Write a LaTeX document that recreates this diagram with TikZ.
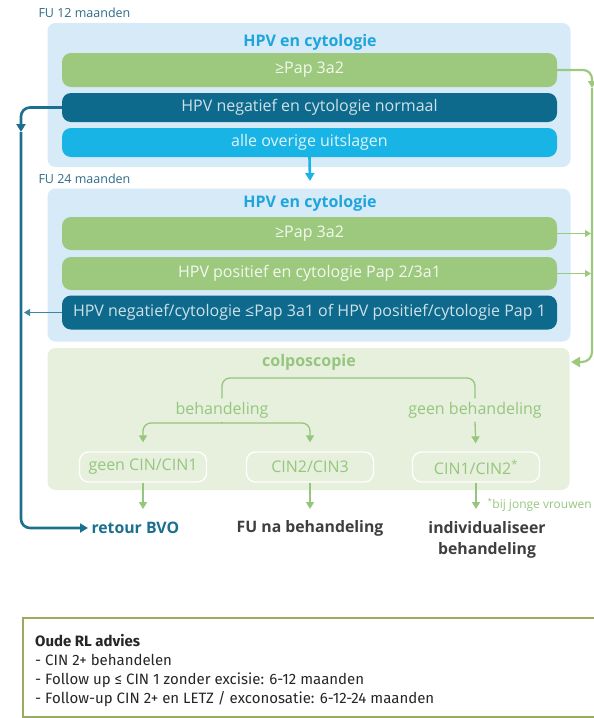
\documentclass[tikz,border=0pt]{standalone}
\usepackage{fontspec}
\setmainfont{Open Sans}
\newfontfamily\notefont{Fira Sans}
\usetikzlibrary{arrows.meta}

\definecolor{panelblue}{HTML}{D7EAF8}
\definecolor{bargreen}{HTML}{9DC97E}
\definecolor{bardark}{HTML}{0E6A8C}
\definecolor{barcyan}{HTML}{19B4E6}
\definecolor{titleblue}{HTML}{1EA5DC}
\definecolor{colpofill}{HTML}{E6F0DD}
\definecolor{colpoline}{HTML}{96C67E}
\definecolor{linedark}{HTML}{1C6F8F}
\definecolor{fublue}{HTML}{2D6B87}
\definecolor{notegreen}{HTML}{9AAB5F}
\definecolor{endgray}{HTML}{3E3E3E}

\tikzset{
	panel/.style={fill=#1, rounded corners=8pt, minimum width=523pt, inner sep=0pt},
	bar/.style={fill=#1, rounded corners=9pt, minimum width=495pt, minimum height=33pt, inner sep=0pt, font=\fontsize{16}{18}\selectfont},
	paneltitle/.style={font=\fontsize{16}{18}\selectfont\bfseries, text=titleblue},
	fulabel/.style={font=\fontsize{12.5}{14}\selectfont, text=fublue, anchor=west},
	cinbox/.style={draw=white, line width=1.3pt, rounded corners=9pt, minimum width=127pt, minimum height=30pt, inner sep=0pt, text=colpoline, font=\fontsize{16}{18}\selectfont},
	colpotext/.style={text=colpoline, font=\fontsize{16}{18}\selectfont},
	endlabel/.style={font=\fontsize{15.8}{21}\selectfont\bfseries, text=endgray, align=center},
	darkline/.style={draw=linedark, line width=2.6pt, rounded corners=9pt},
	thinarrow/.style={line width=1.1pt, -{Triangle[width=7pt,length=6pt]}},
	colpoarrow/.style={draw=colpoline, line width=1.3pt, rounded corners=8pt, -{Triangle[width=8pt,length=7pt]}}
}

\begin{document}
\begin{tikzpicture}[x=1pt,y=-1pt]
	%%%%% START %%%%%
	\useasboundingbox (0,0) rectangle (594,718);
	
	% FU 12 maanden
	\node[fulabel] (fu12) at (35,13) {FU 12 maanden};
	\node[panel=panelblue, minimum height=144pt] (p1) at (309,95) {};
	\node[paneltitle] (t1) at (310,42) {HPV en cytologie};
	\node[bar=bargreen, minimum height=34pt, text=white!88!bargreen] (g1) at (309.5,70) {≥Pap 3a2};
	\node[bar=bardark, minimum height=29pt, text=white!80!bardark] (d1) at (309.5,107.5) {HPV negatief en cytologie normaal};
	\node[bar=barcyan, minimum height=29pt, text=white!85!barcyan] (c1) at (309.5,142.5) {alle overige uitslagen};
	\coordinate (down24) at (310,181);
	\draw[barcyan, line width=2.6pt, -{Triangle[width=9pt,length=8pt]}] (c1.south) -- (down24);
	
	% FU 24 maanden
	\node[fulabel] (fu24) at (35,179) {FU 24 maanden};
	\node[panel=panelblue, minimum height=153pt] (p2) at (309,265) {};
	\node[paneltitle] (t2) at (310,203) {HPV en cytologie};
	\node[bar=bargreen, text=white!88!bargreen] (g2) at (309.5,233.5) {≥Pap 3a2};
	\node[bar=bargreen, text=white!88!bargreen] (g3) at (309.5,273.5) {HPV positief en cytologie Pap 2/3a1};
	\node[bar=bardark, minimum height=34pt, text=white!80!bardark] (d2) at (309.5,312.5) {HPV negatief/cytologie ≤Pap 3a1 of HPV positief/cytologie Pap 1};
	
	% colposcopie
	\node[panel=colpofill, minimum width=522pt, minimum height=142pt] (p3) at (308.5,419) {};
	\node[colpotext, font=\fontsize{16}{18}\selectfont\bfseries] (colpo) at (309,362) {colposcopie};
	\node[colpotext] (beh) at (222,410) {behandeling};
	\node[colpotext] (gbeh) at (475,410) {geen behandeling};
	\node[cinbox] (cin1) at (143,467) {geen CIN/CIN1};
	\node[cinbox] (cin2) at (310,467) {CIN2/CIN3};
	\node[cinbox] (cin3) at (476,467) {CIN1/CIN2\textsuperscript{*}};
	\coordinate (top) at (300,378);
	\coordinate (split) at (222,423);
	\draw[draw=colpoline, line width=1.3pt, rounded corners=8pt] (beh.north) |- (top) -| (gbeh.north);
	\draw[colpoline, line width=1.3pt] (beh.south) -- (split);
	\draw[colpoarrow, shorten >=9pt] (split) -| (cin1.north);
	\draw[colpoarrow, shorten >=9pt] (split) -| (cin2.north);
	\draw[colpoarrow, shorten >=8pt] (gbeh.south) -- (cin3.north);
	
	% uitkomsten
	\node[font=\fontsize{15.8}{18}\selectfont\bfseries, text=linedark, anchor=west] (ret) at (88,528) {retour BVO};
	\node[endlabel] (funa) at (310,528) {FU na behandeling};
	\node[endlabel, anchor=north] (indiv) at (487,518) {individualiseer\\behandeling};
	\node[text=colpoline, font=\fontsize{12}{13}\selectfont, anchor=west] (young) at (484,505) {\textsuperscript{*}bij jonge vrouwen};
	\coordinate (e1) at (143,509);
	\coordinate (e2) at (310,509);
	\coordinate (e3) at (476,509);
	\draw[colpoarrow] (cin1.south) -- (e1);
	\draw[colpoarrow] (cin2.south) -- (e2);
	\draw[colpoarrow] (cin3.south) -- (e3);
	
	% lijnen links
	\coordinate (leftturn) at (21,132);
	\coordinate (leftend) at (24,312.5);
	\draw[darkline, -{Triangle[width=9pt,length=8pt]}] (d1.west) -| (leftturn);
	\draw[darkline, -{Triangle[width=9pt,length=8pt]}] (leftturn) |- (ret.west);
	\draw[linedark!85, thinarrow] (d2.west) -- (leftend);
	
	% lijnen rechts
	\coordinate (rightturn) at (592,88);
	\coordinate (colpoin) at (571,362);
	\draw[bargreen, line width=2.2pt, rounded corners=9pt, -{Triangle[width=8pt,length=7pt]}] (g1.east) -| (rightturn);
	\draw[bargreen, line width=2.2pt, rounded corners=10pt, -{Triangle[width=10pt,length=9pt]}] (rightturn) |- (colpoin);
	\draw[bargreen, thinarrow] (g2.east) -- (591,233.5);
	\draw[bargreen, thinarrow] (g3.east) -- (591,273.5);
	
	% oude richtlijn
	\draw[notegreen, line width=1.6pt] (23,618) rectangle (620,716.8);
	\node[anchor=north west, align=left, inner sep=0pt, font=\notefont\fontsize{15}{19}\selectfont, text=black!85] (note) at (35,634)
		{\textbf{Oude RL advies}\\
		- CIN 2+ behandelen\\
		- Follow up ≤ CIN 1 zonder excisie: 6-12 maanden\\
		- Follow-up CIN 2+ en LETZ / exconosatie: 6-12-24 maanden};
	%%%%% END %%%%%
\end{tikzpicture}
\end{document}
